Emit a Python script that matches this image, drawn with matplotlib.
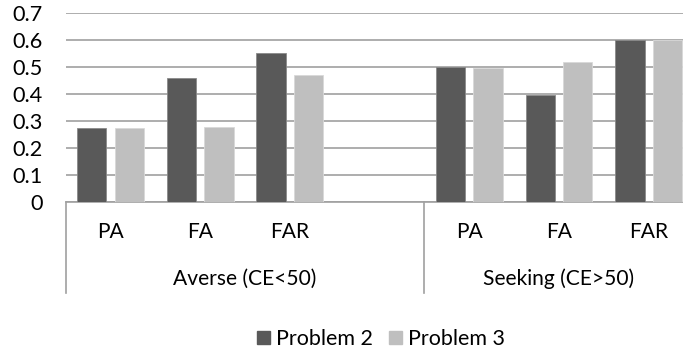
import matplotlib
matplotlib.use("Agg")
import matplotlib.pyplot as plt
from matplotlib.patches import Patch
import numpy as np

categories = ["PA", "FA", "FAR", "", "PA", "FA", "FAR"]
groups = ["Averse (CE<50)", "Seeking (CE>50)"]
group_sizes = [4, 3]
problem2 = [0.272, 0.46, 0.553, np.nan, 0.50, 0.395, 0.60]
problem3 = [0.272, 0.276, 0.472, np.nan, 0.498, 0.519, 0.60]
yticks = [0, 0.1, 0.2, 0.3, 0.4, 0.5, 0.6, 0.7]

plt.rcParams['font.family'] = ['Lato', 'DejaVu Sans']
W, H = 683, 353
fig = plt.figure(figsize=(W / 100, H / 100), dpi=100)
renderer = fig.canvas.get_renderer()


def fit(s, target_px, base=12.0):
    t = fig.text(0, 0, s, fontsize=base)
    w = t.get_window_extent(renderer).width
    t.remove()
    return base * target_px / w


fs_tick = fit("0.7", 30)
fs_cat = fit("Averse (CE<50)", 143)
fs_leg = fit("Problem 2", 97)

left = 65.6 / W
bottom = (H - 201.7) / H
top = (H - 13.3) / H
ax = fig.add_axes([left, bottom, 1 - left, top - bottom])

x = np.arange(len(categories))
bw = 0.327
off = 0.209
c2 = "#595959"
c3 = "#BFBFBF"
ax.bar(x - off, problem2, bw, color=c2, edgecolor="#8a8a8a", linewidth=0.6, zorder=3)
ax.bar(x + off, problem3, bw, color=c3, edgecolor="#d9d9d9", linewidth=0.6, zorder=3)

ax.set_ylim(0, 0.7)
ax.set_xlim(-0.5, (W - 65.6) / 89.7 - 0.5)
ax.set_yticks(yticks)
ax.set_yticklabels(["0" if v == 0 else f"{v:.1f}" for v in yticks])
ax.tick_params(axis="y", length=0, pad=16.3, labelsize=fs_tick, labelcolor="#000000")
ax.set_xticks([])
for s in ["top", "right", "left"]:
    ax.spines[s].set_visible(False)
ax.spines["bottom"].set_color("#A0A0A0")
ax.spines["bottom"].set_linewidth(1.2)
ax.yaxis.grid(True, color="#A0A0A0", linewidth=1.2, zorder=0)
ax.set_axisbelow(True)

trans = ax.get_xaxis_transform()
ah = 201.7 - 13.3


def ay(py):
    return (201.7 - py) / ah


for xi, lab in zip(x, categories):
    ax.text(xi, ay(232), lab, transform=trans, ha="center", va="center", fontsize=fs_cat)

start = -0.5
bounds = [start]
for gname, gs in zip(groups, group_sizes):
    end = start + gs
    ax.text((start + end) / 2, ay(279), gname, transform=trans,
            ha="center", va="center", fontsize=fs_cat)
    bounds.append(end)
    start = end
for b in bounds[:2]:
    ax.plot([b, b], [0, ay(293)], transform=trans, color="#A0A0A0",
            linewidth=1.2, clip_on=False)

fpx = fs_leg * 100 / 72
handles = [Patch(facecolor=c2, edgecolor=c2, label="Problem 2"),
           Patch(facecolor=c3, edgecolor=c3, label="Problem 3")]
fig.legend(handles=handles, loc="center", bbox_to_anchor=(381 / W, (H - 339) / H), ncol=2,
           frameon=False, fontsize=fs_leg, handlelength=13 / fpx, handleheight=13 / fpx,
           handletextpad=6 / fpx, columnspacing=17 / fpx, borderpad=0, borderaxespad=0)

fig.savefig("out.png", dpi=100)
